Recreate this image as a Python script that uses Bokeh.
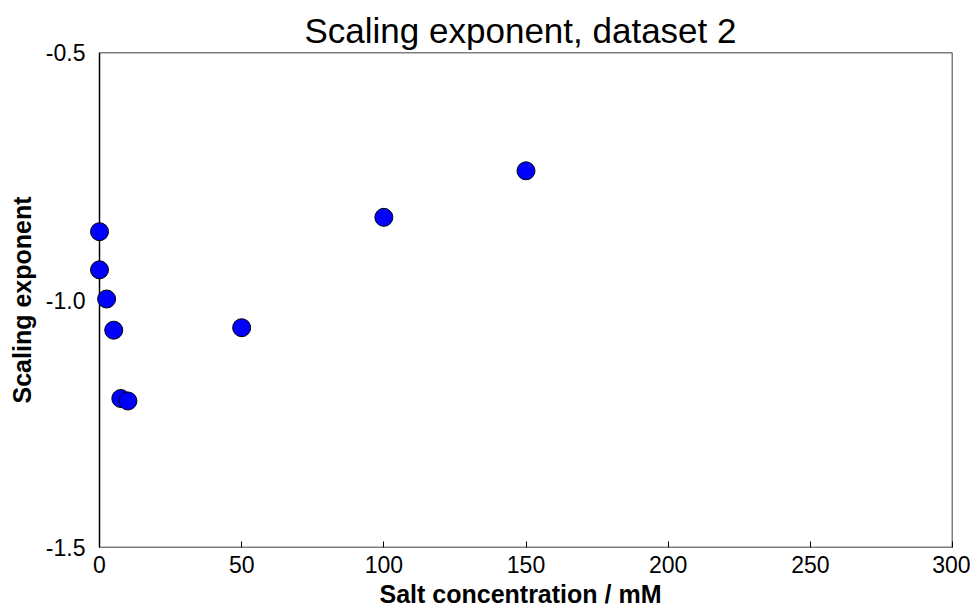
from bokeh.plotting import figure
from bokeh.models import Range1d, FixedTicker, NumeralTickFormatter, BoxAnnotation
from bokeh.embed import file_html
from bokeh.resources import INLINE

# Data
salt_mM = [0, 0, 2.5, 5, 7.5, 10, 50, 100, 150]
exponent = [-0.862, -0.939, -0.998, -1.061, -1.199, -1.204, -1.056, -0.833, -0.739]
x_ticks = [0, 50, 100, 150, 200, 250, 300]
y_ticks = [-1.5, -1.0, -0.5]
x_lo, x_hi = 0, 300
y_lo, y_hi = -1.5, -0.5

FONT = "Liberation Sans"

# leave a little room left of x=0 so markers on the y axis are not clipped
pad_px = 11
box_px = 853
x_start = x_lo - pad_px * (x_hi - x_lo) / box_px

p = figure(
    width=970, height=610,
    output_backend="svg", toolbar_location=None,
    x_range=Range1d(x_start, x_hi), y_range=Range1d(y_lo, y_hi),
    title="Scaling exponent, dataset 2",
    min_border_left=99 - pad_px, min_border_right=18, min_border_top=52, min_border_bottom=61,
)

p.title.align = "center"
p.title.text_font = FONT
p.title.text_font_size = "35px"
p.title.text_font_style = "normal"
p.title.text_color = "black"
p.title.offset = 0
p.title.standoff = 6

p.xgrid.visible = False
p.ygrid.visible = False
p.outline_line_color = None

box = BoxAnnotation(left=x_lo, right=x_hi, bottom=y_lo, top=y_hi,
                    fill_alpha=0, fill_color=None,
                    line_color="black", line_alpha=1.0, line_width=1.5,
                    level="underlay")
p.add_layout(box)

for ax in (p.xaxis[0], p.yaxis[0]):
    ax.axis_line_color = None
    ax.minor_tick_line_color = None
    ax.major_tick_out = 0
    ax.major_label_text_font = FONT
    ax.major_label_text_font_size = "23px"
    ax.major_label_text_color = "black"
    ax.axis_label_text_font = FONT
    ax.axis_label_text_font_size = "25px"
    ax.axis_label_text_font_style = "bold"
    ax.axis_label_text_color = "black"

p.xaxis.major_tick_in = 6
p.xaxis.major_tick_line_color = "black"
p.xaxis.major_tick_line_width = 1
p.yaxis.major_tick_in = 0
p.yaxis.major_tick_line_color = None

p.xaxis.ticker = FixedTicker(ticks=x_ticks)
p.yaxis.ticker = FixedTicker(ticks=y_ticks)
p.yaxis.formatter = NumeralTickFormatter(format="0.0")

p.xaxis.axis_label = "Salt concentration / mM"
p.yaxis.axis_label = "Scaling exponent"
p.xaxis.major_label_standoff = 8
p.xaxis.axis_label_standoff = 4
p.yaxis.major_label_standoff = 14 - pad_px
p.yaxis.axis_label_standoff = 7

p.scatter(salt_mM, exponent, size=18, marker="circle",
          fill_color="#0000FF", line_color="black", line_width=1)

open("out.html", "w").write(file_html(p, INLINE))
